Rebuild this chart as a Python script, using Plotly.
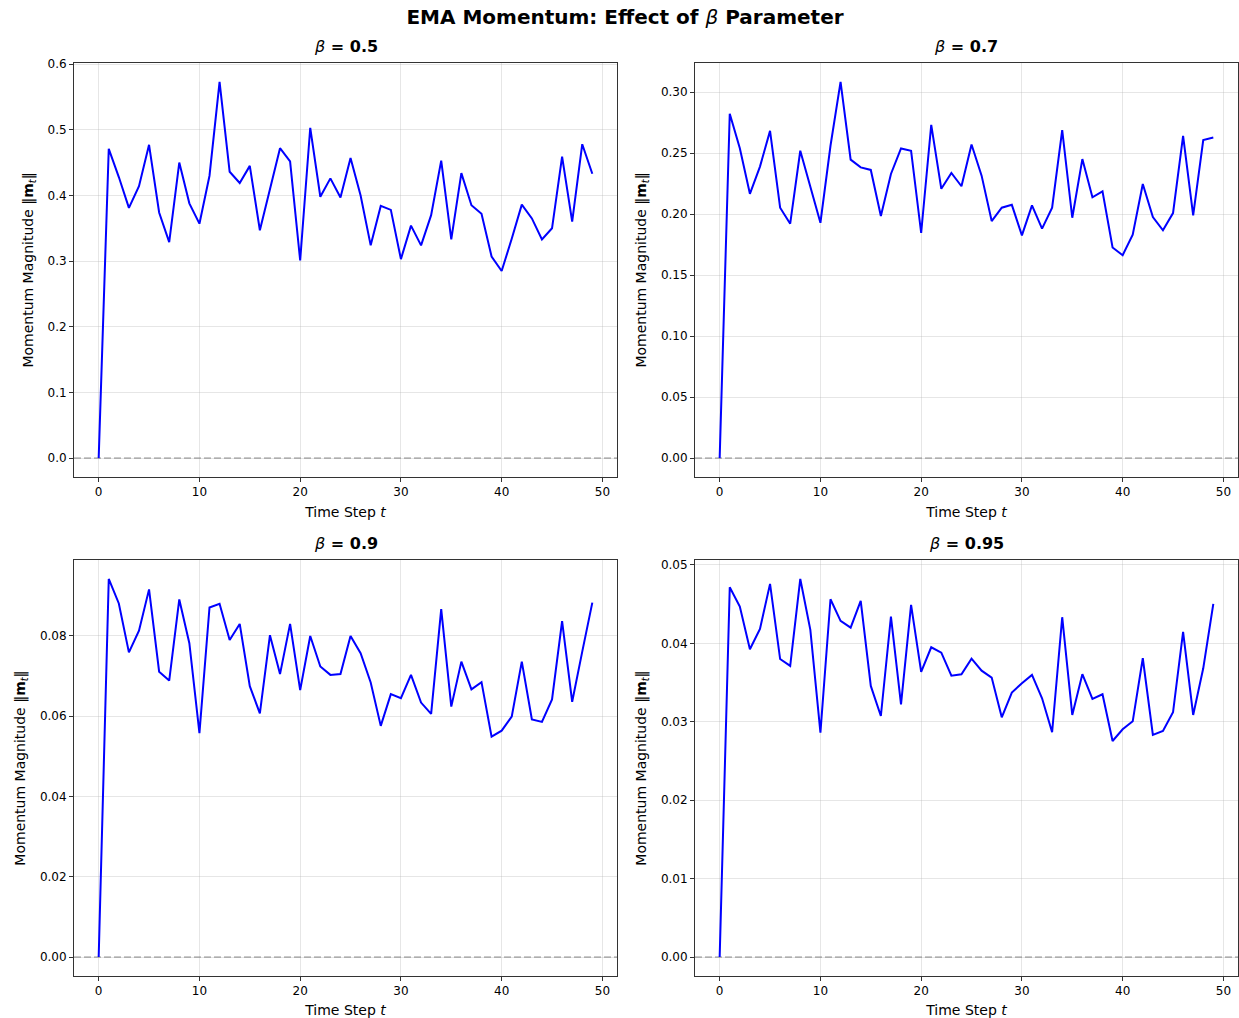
import plotly.graph_objects as go

time_steps = list(range(50))
beta_labels = ["0.5", "0.7", "0.9", "0.95"]

beta05 = [0, 0.471, 0.428, 0.381, 0.414, 0.477, 0.374, 0.329, 0.450, 0.388,
          0.357, 0.430, 0.573, 0.436, 0.419, 0.445, 0.347, 0.410, 0.472, 0.452,
          0.301, 0.503, 0.398, 0.426, 0.397, 0.457, 0.400, 0.324, 0.384, 0.378,
          0.303, 0.354, 0.324, 0.370, 0.453, 0.333, 0.434, 0.385, 0.372, 0.307,
          0.285, 0.334, 0.386, 0.365, 0.333, 0.350, 0.459, 0.360, 0.478, 0.433]
beta07 = [0, 0.2823, 0.2540, 0.2166, 0.2389, 0.2682, 0.2052, 0.1921, 0.2519, 0.2225,
          0.1929, 0.2560, 0.3084, 0.2446, 0.2383, 0.2362, 0.1984, 0.2329, 0.2538, 0.2519,
          0.1845, 0.2731, 0.2207, 0.2337, 0.2228, 0.2570, 0.2315, 0.1943, 0.2052, 0.2076,
          0.1826, 0.2071, 0.1881, 0.2052, 0.2688, 0.1970, 0.2451, 0.2138, 0.2187, 0.1726,
          0.1663, 0.1832, 0.2247, 0.1975, 0.1867, 0.2008, 0.2641, 0.1989, 0.2606, 0.2627]
beta09 = [0, 0.0942, 0.0881, 0.0759, 0.0813, 0.0916, 0.0711, 0.0689, 0.0891, 0.0782,
          0.0558, 0.0871, 0.0880, 0.0790, 0.0830, 0.0675, 0.0607, 0.0802, 0.0705, 0.0830,
          0.0665, 0.0800, 0.0724, 0.0703, 0.0705, 0.0800, 0.0757, 0.0684, 0.0576, 0.0655,
          0.0645, 0.0703, 0.0634, 0.0606, 0.0867, 0.0624, 0.0736, 0.0667, 0.0685, 0.0549,
          0.0564, 0.0599, 0.0736, 0.0592, 0.0586, 0.0642, 0.0837, 0.0636, 0.0761, 0.0883]
beta095 = [0, 0.04716, 0.04468, 0.03924, 0.04184, 0.04758, 0.03800, 0.03712, 0.04821, 0.04171,
           0.02861, 0.04562, 0.04286, 0.04200, 0.04541, 0.03457, 0.03074, 0.04340, 0.03223, 0.04490,
           0.03635, 0.03950, 0.03882, 0.03588, 0.03606, 0.03805, 0.03652, 0.03563, 0.03057, 0.03372,
           0.03491, 0.03597, 0.03300, 0.02866, 0.04333, 0.03087, 0.03606, 0.03291, 0.03351, 0.02755,
           0.02904, 0.03006, 0.03810, 0.02832, 0.02883, 0.03121, 0.04145, 0.03087, 0.03682, 0.04503]

series = [beta05, beta07, beta09, beta095]
y_dticks = [0.1, 0.05, 0.02, 0.01]
y_formats = [".1f", ".2f", ".2f", ".2f"]

W, H = 1239, 1018
FONT = "DejaVu Sans"

# domains (paper fractions), margins l=74, r=1, t=63, b=42
x_domains = [[0, 0.4665], [0.5335, 1.0], [0, 0.4665], [0.5335, 1.0]]
y_domains = [[0.5466, 1.0], [0.5466, 1.0], [0, 0.4556], [0, 0.4556]]

fig = go.Figure()
layout = {}
annotations = []

for i, (vals, lab) in enumerate(zip(series, beta_labels)):
    n = i + 1
    xa = "x" if n == 1 else f"x{n}"
    ya = "y" if n == 1 else f"y{n}"
    xr = [-0.05 * (len(time_steps) - 1), (len(time_steps) - 1) * 1.05]
    vmax = max(vals)
    yr = [-0.05 * vmax, 1.05 * vmax]

    # zero reference line
    fig.add_trace(go.Scatter(
        x=[xr[0], xr[1]], y=[0, 0], mode="lines",
        line=dict(color="rgba(128,128,128,0.55)", width=1.8, dash="7px,3px"),
        xaxis=xa, yaxis=ya, showlegend=False, hoverinfo="skip"))
    fig.add_trace(go.Scatter(
        x=time_steps, y=vals, mode="lines",
        line=dict(color="#0000ff", width=2),
        xaxis=xa, yaxis=ya, showlegend=False))

    axis_common = dict(
        showline=True, linecolor="#333333", linewidth=1, mirror=True,
        ticks="outside", ticklen=4, tickwidth=1, tickcolor="#333333",
        showgrid=True, gridcolor="rgba(176,176,176,0.32)", gridwidth=1,
        zeroline=False, tickfont=dict(family=FONT, size=12, color="#000000"),
        automargin=False,
    )
    layout["xaxis" if n == 1 else f"xaxis{n}"] = dict(
        axis_common, domain=x_domains[i], anchor=ya, range=xr,
        tickmode="linear", tick0=0, dtick=10,
        title=dict(text="Time Step <i>t</i>", font=dict(family=FONT, size=14, color="#000"),
                   standoff=8),
    )
    layout["yaxis" if n == 1 else f"yaxis{n}"] = dict(
        axis_common, domain=y_domains[i], anchor=xa, range=yr,
        tickmode="linear", tick0=0, dtick=y_dticks[i], tickformat=y_formats[i],
        title=dict(text="Momentum Magnitude \u2016<b>m</b><sub><i>t</i></sub>\u2016",
                   font=dict(family=FONT, size=14, color="#000"), standoff=10),
    )
    annotations.append(dict(
        text=f"<i>\u03b2</i><b> = {lab}</b>",
        x=(x_domains[i][0] + x_domains[i][1]) / 2, y=y_domains[i][1],
        xref="paper", yref="paper", xanchor="center", yanchor="bottom",
        yshift=5, showarrow=False,
        font=dict(family=FONT, size=16, color="#000")))

fig.update_layout(
    width=W, height=H,
    margin=dict(l=74, r=1, t=63, b=42, autoexpand=False),
    paper_bgcolor="white", plot_bgcolor="white",
    font=dict(family=FONT, color="#000"),
    title=dict(text="<b>EMA Momentum: Effect of </b><i>\u03b2</i><b> Parameter</b>",
               x=625 / W, xref="container", xanchor="center",
               y=1 - 17 / H, yref="container", yanchor="middle",
               font=dict(family=FONT, size=20, color="#000")),
    annotations=annotations,
    showlegend=False,
    **layout,
)

fig.write_html("out.html")
